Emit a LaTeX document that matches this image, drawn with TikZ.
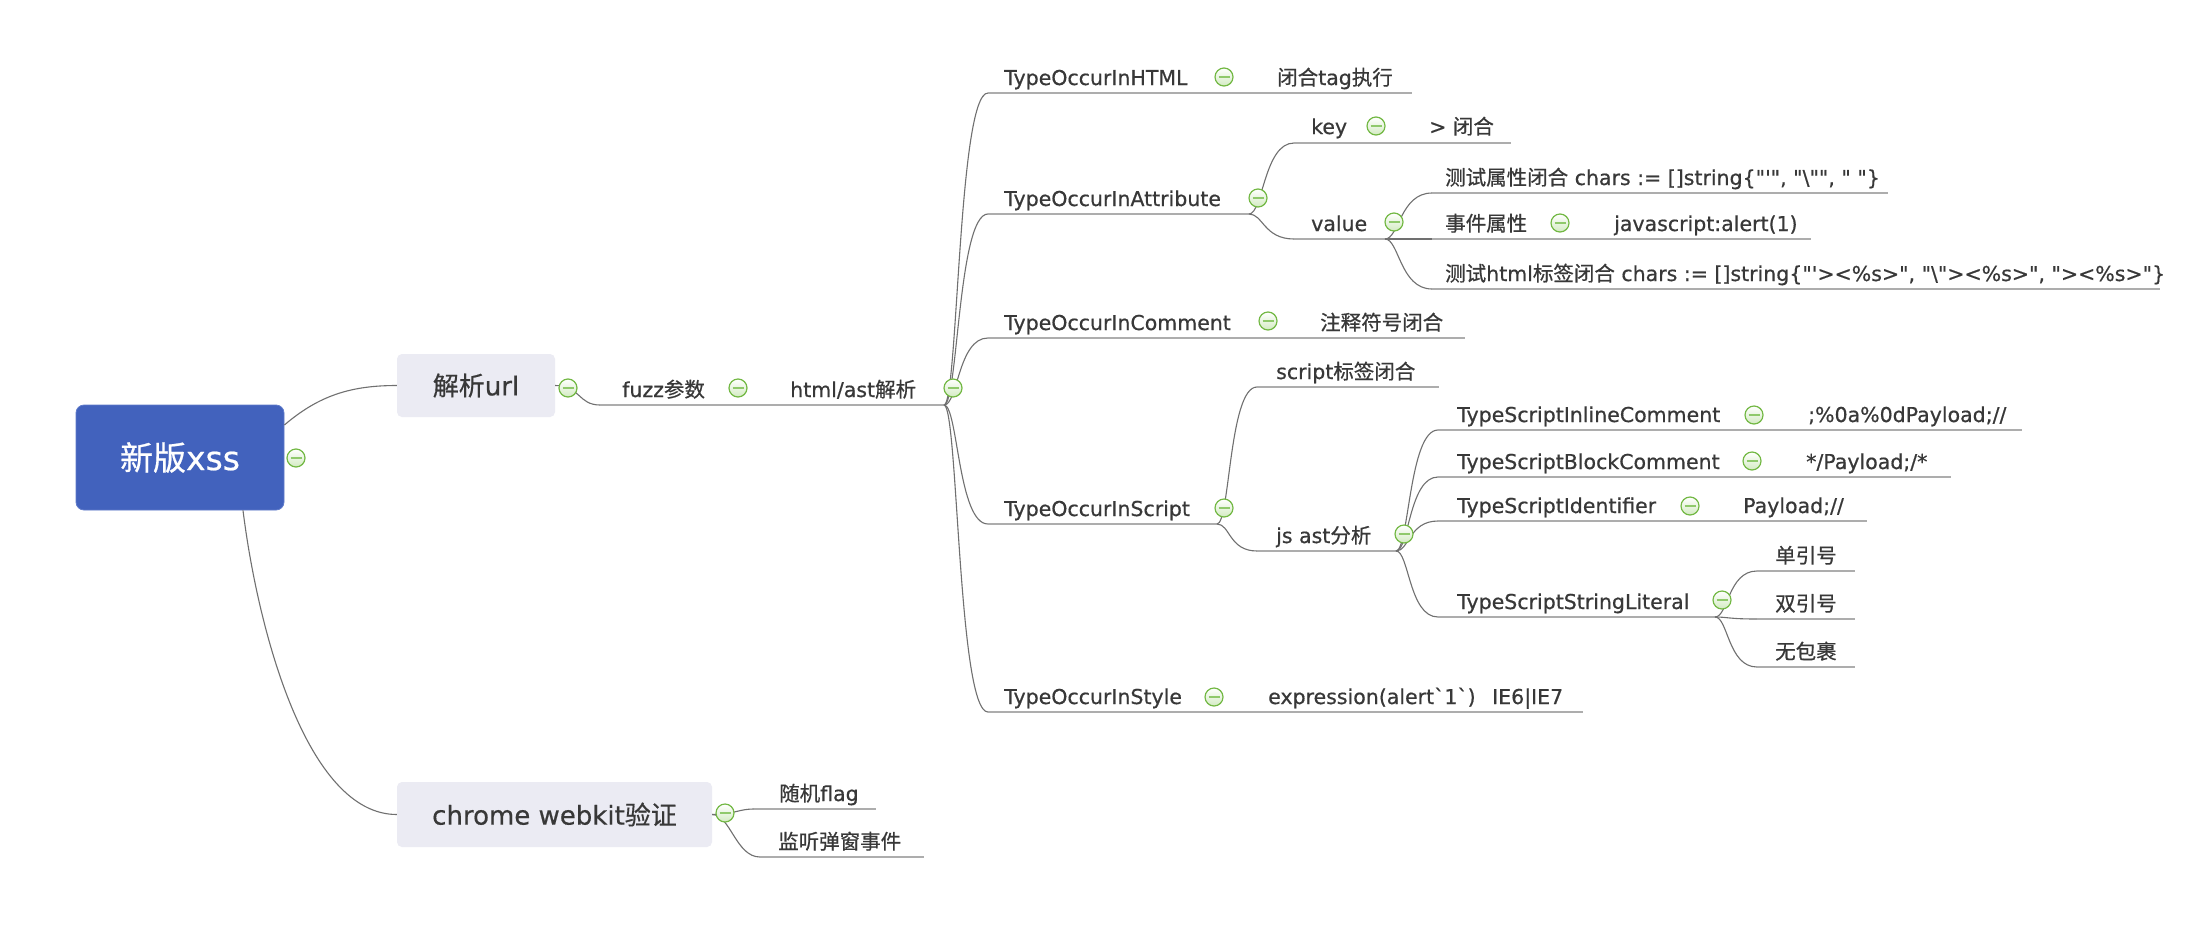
\documentclass[tikz,border=0pt]{standalone}
\usepackage{fontspec}
\setmainfont{DejaVu Sans}[Ligatures=TeXOff, FakeBold=0.6]
\newfontfamily\zhfont{Noto Sans CJK SC}[FakeBold=0.6]
\newcommand\zhtxt[1]{{\zhfont #1}}
\definecolor{rootc}{HTML}{4262BD}
\definecolor{rootd}{HTML}{5F7BCB}
\definecolor{boxc}{HTML}{EBEBF3}
\definecolor{txtc}{HTML}{383838}
\definecolor{connc}{HTML}{707070}
\definecolor{ulinec}{HTML}{ADADAD}
\definecolor{togd}{HTML}{72B843}
\definecolor{togf}{HTML}{D3EBC2}
\definecolor{togm}{HTML}{8FC96B}
\tikzset{
  rootbox/.style={draw=rootd, line width=0.8pt, fill=rootc, rounded corners=8pt, minimum width=208pt, minimum height=105pt, text=white, font=\fontsize{33pt}{38pt}\selectfont, inner sep=0pt},
  subbox/.style={fill=boxc, rounded corners=5pt, text=txtc, font=\fontsize{26pt}{30pt}\selectfont, inner sep=0pt},
  lbl/.style={anchor=base west, inner sep=0pt, text=txtc, font=\fontsize{20.5pt}{24pt}\selectfont},
  conn/.style={draw=connc, line width=1.1pt},
  uline/.style={draw=ulinec, line width=2.2pt},
  tog/.style={circle, draw=togd, line width=1.2pt, minimum size=18pt, inner sep=0pt, top color=white, bottom color=togf,
    path picture={\draw[togm, line width=2.6pt] ([xshift=-5.5pt]path picture bounding box.center) -- ([xshift=5.5pt]path picture bounding box.center);}}
}
\begin{document}
\begin{tikzpicture}[x=1pt,y=-1pt]
\useasboundingbox (0,0) rectangle (2200,932);
\fill[white] (0,0) rectangle (2200,932);

% ---- main boxes
\node[rootbox] (root) at (180,457.5) {\zhtxt{新版}xss};
\node[subbox, minimum width=158pt, minimum height=63pt] (url) at (476,385.5) {\zhtxt{解析}url};
\node[subbox, minimum width=315pt, minimum height=65pt] (chrome) at (554.5,814.5) {chrome webkit\zhtxt{验证}};

\draw[conn] ([yshift=32.5pt]root.east) .. controls +(35,-30) and +(-45,0) .. (url.west);
\draw[conn] ([xshift=63pt]root.south) .. controls +(15,120) and +(-90,0) .. (chrome.west);

% ---- fuzz / html-ast line
\coordinate (fz-s) at (600,405);
\coordinate (fz-e) at (760,405);
\coordinate (ha-e) at (944,405);
\draw[conn] (url.east) .. controls +(25,0) and +(-22,0) .. (fz-s);
\draw[uline] (fz-s) -- (fz-e);
\draw[uline] (fz-e) -- (ha-e);
\node[lbl] (fuzz) at (622,397) {fuzz\zhtxt{参数}};
\node[lbl] (htmlast) at (790,397) {html/ast\zhtxt{解析}};

% ---- level 3 coordinates
\coordinate (h-s) at (988,93);   \coordinate (h-m) at (1250,93);  \coordinate (h-e) at (1412,93);
\coordinate (a-s) at (988,214);  \coordinate (a-e) at (1249,214);
\coordinate (c-s) at (988,338);  \coordinate (c-m) at (1290,338); \coordinate (c-e) at (1465,338);
\coordinate (s-s) at (988,524);  \coordinate (s-e) at (1217,524);
\coordinate (st-s) at (988,712); \coordinate (st-m) at (1240,712); \coordinate (st-e) at (1583,712);

\foreach \t in {h-s,a-s,c-s,s-s,st-s}
  \draw[conn] (ha-e) .. controls +(14,0) and +(-30,0) .. (\t);

\draw[uline] (h-s) -- (h-m);  \draw[uline] (h-m) -- (h-e);
\draw[uline] (a-s) -- (a-e);
\draw[uline] (c-s) -- (c-m);  \draw[uline] (c-m) -- (c-e);
\draw[uline] (s-s) -- (s-e);
\draw[uline] (st-s) -- (st-m); \draw[uline] (st-m) -- (st-e);

\node[lbl] (html) at (1004,85) {TypeOccurInHTML};
\node[lbl] (htmlc) at (1277,85) {\zhtxt{闭合}tag\zhtxt{执行}};
\node[lbl] (attr) at (1004,206) {TypeOccurInAttribute};
\node[lbl] (comm) at (1004,330) {TypeOccurInComment};
\node[lbl] (commc) at (1320,330) {\zhtxt{注释符号闭合}};
\node[lbl] (scr) at (1004,516) {TypeOccurInScript};
\node[lbl] (sty) at (1004,704) {TypeOccurInStyle};
\node[lbl] (styc) at (1268,704) {expression(alert`1`)\hspace{10pt} IE6|IE7};

% ---- attribute
\coordinate (k-s) at (1294,143); \coordinate (k-m) at (1392,143); \coordinate (k-e) at (1511,143);
\coordinate (v-s) at (1294,239); \coordinate (v-e) at (1385,239);
\draw[conn] (a-e) .. controls +(14,0) and +(-30,0) .. (k-s);
\draw[conn] (a-e) .. controls +(14,0) and +(-30,0) .. (v-s);
\draw[uline] (k-s) -- (k-m); \draw[uline] (k-m) -- (k-e);
\draw[uline] (v-s) -- (v-e);
\node[lbl] (key) at (1311,134) {key};
\node[lbl] (keyc) at (1429,134) {> \zhtxt{闭合}};
\node[lbl] (val) at (1311,231) {value};

\coordinate (v1-s) at (1432,193); \coordinate (v1-e) at (1888,193);
\coordinate (v2-s) at (1432,239); \coordinate (v2-m) at (1582,239); \coordinate (v2-e) at (1811,239);
\coordinate (v3-s) at (1432,289); \coordinate (v3-e) at (2160,289);
\draw[conn] (v-e) .. controls +(14,0) and +(-32,0) .. (v1-s);
\draw[conn] (v-e) -- (v2-s);
\draw[conn] (v-e) .. controls +(14,0) and +(-32,0) .. (v3-s);
\draw[uline] (v1-s) -- (v1-e);
\draw[uline] (v2-s) -- (v2-m); \draw[uline] (v2-m) -- (v2-e);
\draw[uline] (v3-s) -- (v3-e);
\node[lbl] (v1) at (1445,185) {\zhtxt{测试属性闭合} chars := []string\{"'", "\textbackslash"", " "\}};
\node[lbl] (v2) at (1445,231) {\zhtxt{事件属性}};
\node[lbl] (v2c) at (1614,231) {javascript:alert(1)};
\node[lbl] (v3) at (1445,281) {\zhtxt{测试}html\zhtxt{标签闭合} chars := []string\{"'><\%s>", "\textbackslash"><\%s>", "><\%s>"\}};

% ---- script
\coordinate (s1-s) at (1257,387); \coordinate (s1-e) at (1439,387);
\coordinate (js-s) at (1257,551); \coordinate (js-e) at (1396,551);
\draw[conn] (s-e) .. controls +(13,0) and +(-28,0) .. (s1-s);
\draw[conn] (s-e) .. controls +(13,0) and +(-28,0) .. (js-s);
\draw[uline] (s1-s) -- (s1-e);
\draw[uline] (js-s) -- (js-e);
\node[lbl] (s1) at (1276,379) {script\zhtxt{标签闭合}};
\node[lbl] (js) at (1276,543) {js ast\zhtxt{分析}};

\coordinate (j1-s) at (1438,430); \coordinate (j1-m) at (1782,430); \coordinate (j1-e) at (2022,430);
\coordinate (j2-s) at (1438,477); \coordinate (j2-m) at (1780,477); \coordinate (j2-e) at (1951,477);
\coordinate (j3-s) at (1438,521); \coordinate (j3-m) at (1718,521); \coordinate (j3-e) at (1867,521);
\coordinate (j4-s) at (1438,617); \coordinate (j4-e) at (1715,617);
\foreach \t in {j1-s,j2-s,j3-s,j4-s}
  \draw[conn] (js-e) .. controls +(13,0) and +(-29,0) .. (\t);
\draw[uline] (j1-s) -- (j1-m); \draw[uline] (j1-m) -- (j1-e);
\draw[uline] (j2-s) -- (j2-m); \draw[uline] (j2-m) -- (j2-e);
\draw[uline] (j3-s) -- (j3-m); \draw[uline] (j3-m) -- (j3-e);
\draw[uline] (j4-s) -- (j4-e);
\node[lbl] (j1) at (1457,422) {TypeScriptInlineComment};
\node[lbl] (j1c) at (1808,422) {;\%0a\%0dPayload;//};
\node[lbl] (j2) at (1457,469) {TypeScriptBlockComment};
\node[lbl] (j2c) at (1806,469) {*/Payload;/*};
\node[lbl] (j3) at (1457,513) {TypeScriptIdentifier};
\node[lbl] (j3c) at (1743,513) {Payload;//};
\node[lbl] (j4) at (1457,609) {TypeScriptStringLiteral};

\coordinate (q1-s) at (1757,571); \coordinate (q1-e) at (1855,571);
\coordinate (q2-s) at (1757,619); \coordinate (q2-e) at (1855,619);
\coordinate (q3-s) at (1757,667); \coordinate (q3-e) at (1855,667);
\foreach \t in {q1-s,q2-s,q3-s}
  \draw[conn] (j4-e) .. controls +(13,0) and +(-29,0) .. (\t);
\draw[uline] (q1-s) -- (q1-e);
\draw[uline] (q2-s) -- (q2-e);
\draw[uline] (q3-s) -- (q3-e);
\node[lbl] (q1) at (1775,563) {\zhtxt{单引号}};
\node[lbl] (q2) at (1775,611) {\zhtxt{双引号}};
\node[lbl] (q3) at (1775,659) {\zhtxt{无包裹}};

% ---- chrome children
\coordinate (rf-s) at (754,809); \coordinate (rf-e) at (876,809);
\coordinate (jt-s) at (760,857); \coordinate (jt-e) at (924,857);
\draw[conn] (chrome.east) .. controls +(22,0) and +(-16,0) .. (rf-s);
\draw[conn] (chrome.east) .. controls +(18,0) and +(-24,0) .. (jt-s);
\draw[uline] (rf-s) -- (rf-e);
\draw[uline] (jt-s) -- (jt-e);
\node[lbl] (rf) at (779,801) {\zhtxt{随机}flag};
\node[lbl] (jt) at (778,849) {\zhtxt{监听弹窗事件}};

% ---- collapse toggles
\node[tog] (t-root) at (296,458) {};
\node[tog] (t-url) at (568,388) {};
\node[tog] (t-fuzz) at (738,388) {};
\node[tog] (t-ha) at (953,388) {};
\node[tog] (t-html) at (1224,77) {};
\node[tog] (t-attr) at (1258,198) {};
\node[tog] (t-key) at (1376,126) {};
\node[tog] (t-val) at (1394,222) {};
\node[tog] (t-v2) at (1560,223) {};
\node[tog] (t-comm) at (1268,321) {};
\node[tog] (t-scr) at (1224,508) {};
\node[tog] (t-js) at (1404,534) {};
\node[tog] (t-j1) at (1754,415) {};
\node[tog] (t-j2) at (1752,461) {};
\node[tog] (t-j3) at (1690,506) {};
\node[tog] (t-j4) at (1722,600) {};
\node[tog] (t-sty) at (1214,697) {};
\node[tog] (t-chrome) at (725,813) {};
\end{tikzpicture}
\end{document}
